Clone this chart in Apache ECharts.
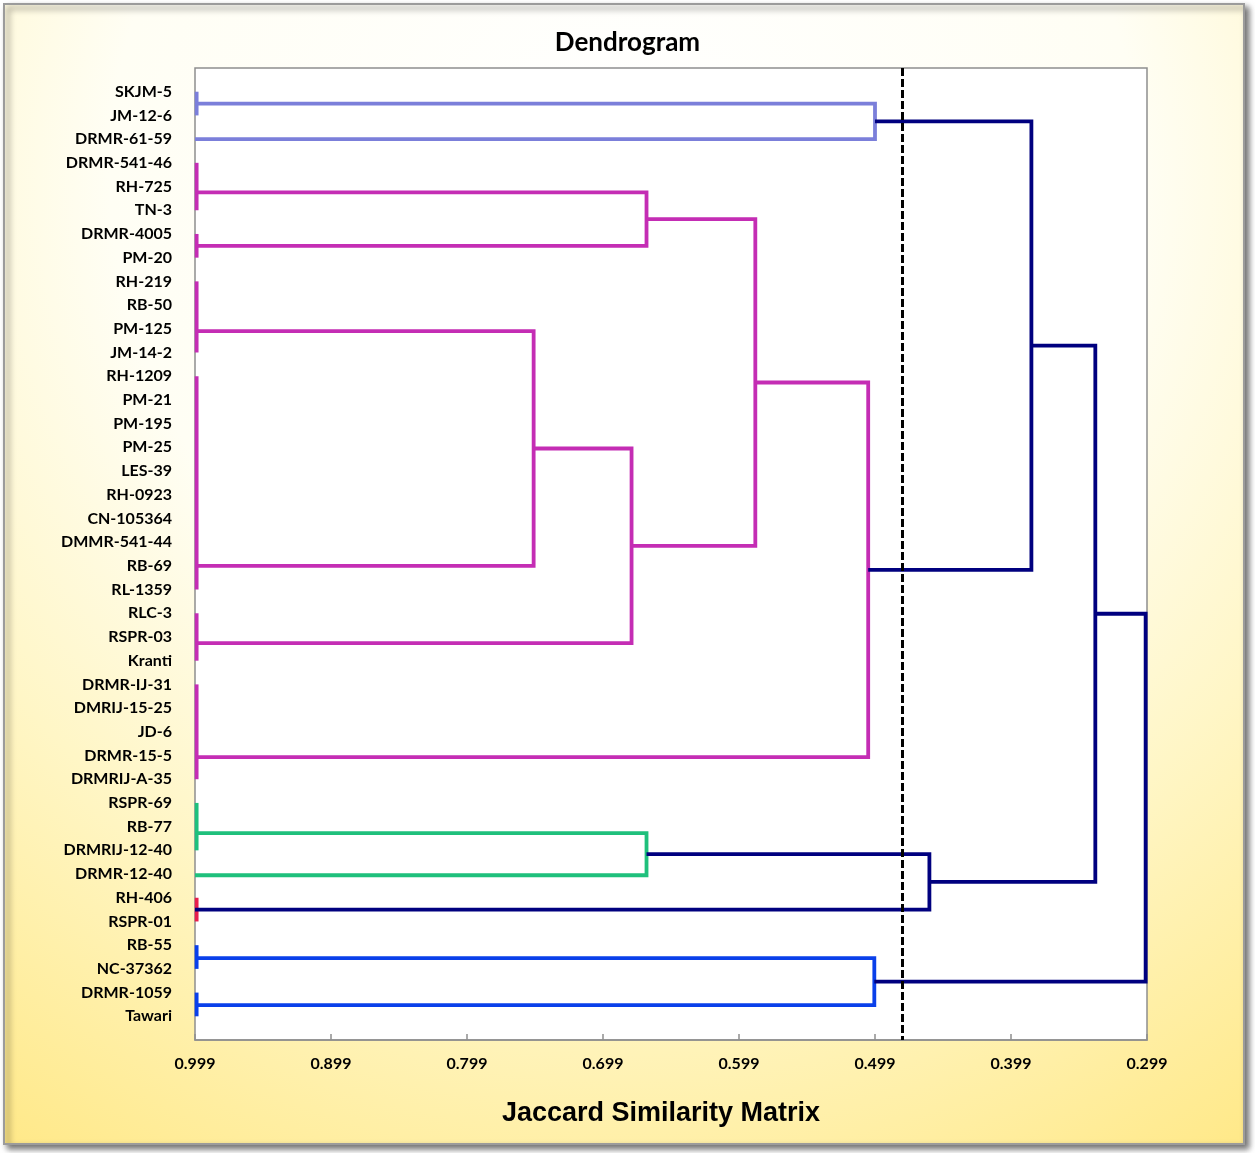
<!DOCTYPE html>
<html>
<head>
<meta charset="utf-8">
<script src="https://cdn.jsdelivr.net/npm/echarts@6/dist/echarts.min.js"></script>
<style>
  html, body { margin: 0; background: #fff; }
  #dendro { width: 1255px; height: 1153px; }
</style>
</head>
<body>
<div id="dendro"></div>
<script>
// genotypes, top to bottom
const genotypes = ['SKJM-5', 'JM-12-6', 'DRMR-61-59', 'DRMR-541-46', 'RH-725', 'TN-3', 'DRMR-4005', 'PM-20',
  'RH-219', 'RB-50', 'PM-125', 'JM-14-2', 'RH-1209', 'PM-21', 'PM-195', 'PM-25', 'LES-39', 'RH-0923',
  'CN-105364', 'DMMR-541-44', 'RB-69', 'RL-1359', 'RLC-3', 'RSPR-03', 'Kranti', 'DRMR-IJ-31', 'DMRIJ-15-25',
  'JD-6', 'DRMR-15-5', 'DRMRIJ-A-35', 'RSPR-69', 'RB-77', 'DRMRIJ-12-40', 'DRMR-12-40', 'RH-406', 'RSPR-01',
  'RB-55', 'NC-37362', 'DRMR-1059', 'Tawari'];

// groups of identical genotypes (joined at 0.999): first row, last row, branch row
const groupFirst = [0, 2, 3, 6, 8, 12, 22, 25, 30, 33, 34, 36, 38];
const groupLast  = [1, 2, 5, 7, 11, 21, 24, 29, 32, 33, 35, 37, 39];
const groupRow   = [0.5, 2, 4.25, 6.5, 10.1, 20.0, 23.26, 28.07, 31.27, 33.05, 34.5, 36.55, 38.53];
const groupClade = ['A', 'A', 'B', 'B', 'B', 'B', 'B', 'B', 'C', 'C', 'D', 'E', 'E'];

// joins: two nodes (g = group, j = earlier join) and the similarity they meet at
const joinA     = ['g0', 'g2', 'g4', 'j2', 'j1', 'j4', 'j0', 'g8', 'j7', 'j6', 'g11', 'j9'];
const joinB     = ['g1', 'g3', 'g5', 'g6', 'j3', 'g7', 'j5', 'g9', 'g10', 'j8', 'g12', 'j10'];
const joinSim   = [0.499, 0.667, 0.750, 0.678, 0.587, 0.504, 0.384, 0.667, 0.459, 0.337, 0.4995, 0.300];
const joinClade = ['A', 'B', 'B', 'B', 'B', 'B', 'N', 'C', 'N', 'N', 'E', 'N'];

const cutoff = 0.479;

const cladeColor = { A: '#7b7fda', B: '#c42db4', C: '#1fc07c', D: '#e81e4c', E: '#0a40ea', N: '#00007f' };

// x axis runs as distance from 0.999 so the ticks start at 0
const topSim = 0.999;
const dist = s => +(topSim - s).toFixed(4);

const nodes = {};
const segs = [];
groupRow.forEach((r, i) => {
  nodes['g' + i] = { x: 0, y: r };
  if (groupLast[i] > groupFirst[i]) {
    segs.push({ coords: [[0.0012, groupFirst[i]], [0.0012, groupLast[i]]], color: cladeColor[groupClade[i]] });
  }
});
joinSim.forEach((s, i) => {
  const a = nodes[joinA[i]], b = nodes[joinB[i]];
  const x = dist(s);
  nodes['j' + i] = { x: x, y: (a.y + b.y) / 2 };
  segs.push({ coords: [[a.x, a.y], [x, a.y], [x, b.y], [b.x, b.y]], color: cladeColor[joinClade[i]] });
});

const labelFont = { fontFamily: 'Lato', fontWeight: 'bold', fontSize: 16, color: '#000' };

const chart = echarts.init(document.getElementById('dendro'));
chart.setOption({
  animation: false,
  graphic: {
    elements: [{
      type: 'rect', z: -10, silent: true,
      shape: { x: 4, y: 4, width: 1240, height: 1140 },
      style: {
        fill: {
          type: 'radial', x: 0.5, y: 0.15, r: 1.0,
          colorStops: [
            { offset: 0, color: '#ffffff' },
            { offset: 0.45, color: '#fffef4' },
            { offset: 0.7, color: '#fff6c6' },
            { offset: 1, color: '#ffe98a' }
          ]
        },
        stroke: '#9b9b9b', lineWidth: 2,
        shadowBlur: 6, shadowOffsetX: 4, shadowOffsetY: 4, shadowColor: 'rgba(0,0,0,0.55)'
      }
    }]
  },
  title: {
    text: 'Dendrogram', left: 'center', top: 30, padding: 0,
    textStyle: { fontFamily: 'Lato', fontWeight: 'bold', fontSize: 26, color: '#000' }
  },
  grid: {
    left: 195, right: 108, top: 68, bottom: 113,
    show: true, backgroundColor: '#fff', borderColor: '#8e8e8e', borderWidth: 1.5
  },
  xAxis: {
    type: 'value', min: 0, max: 0.7, interval: 0.1,
    name: 'Jaccard Similarity Matrix', nameLocation: 'middle', nameGap: 60,
    nameTextStyle: { fontFamily: 'Liberation Sans', fontWeight: 'bold', fontSize: 27, color: '#000', padding: [0, 20, 0, 0] },
    axisLine: { onZero: false, lineStyle: { color: '#8e8e8e', width: 1.5 } },
    axisTick: { inside: true, length: 6, lineStyle: { color: '#8e8e8e', width: 1.5 } },
    axisLabel: Object.assign({ margin: 16, formatter: v => (topSim - v).toFixed(3) }, labelFont),
    splitLine: { show: false }
  },
  yAxis: {
    type: 'value', inverse: true, min: -1, max: 40, interval: 1,
    axisLine: { show: false }, axisTick: { show: false }, splitLine: { show: false },
    axisLabel: Object.assign({ margin: 23, formatter: v => genotypes[v] || '' }, labelFont)
  },
  series: [
    {
      type: 'lines', coordinateSystem: 'cartesian2d', polyline: true, clip: false, silent: true, z: 3,
      lineStyle: { width: 3.8, opacity: 1, join: 'miter' },
      data: segs.map(s => ({ coords: s.coords, lineStyle: { color: s.color } }))
    },
    {
      type: 'line', data: [], silent: true, z: 4,
      markLine: {
        silent: true, symbol: 'none', label: { show: false },
        lineStyle: { color: '#000', type: [8, 3], width: 3 },
        data: [{ xAxis: dist(cutoff) }]
      }
    }
  ]
});
</script>
</body>
</html>
